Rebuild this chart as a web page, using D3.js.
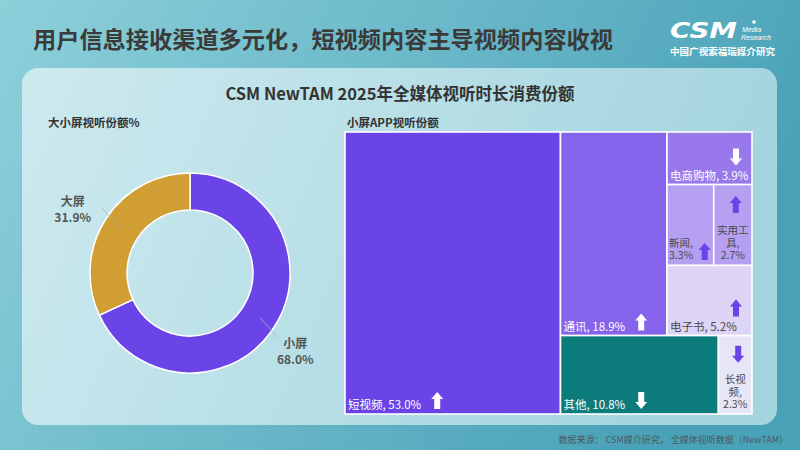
<!DOCTYPE html>
<html>
<head>
<meta charset="utf-8">
<script src="https://cdn.jsdelivr.net/npm/d3@7"></script>
<style>
  body { margin: 0; }
  svg { display: block; }
</style>
</head>
<body>
<div id="chart"></div>
<script>
// 大小屏视听份额
const screenNames = ["小屏", "大屏"];
const screenShares = [68.0, 31.9];

// 小屏APP视听份额
const appNames = ["短视频", "通讯", "电商购物", "新闻", "实用工具", "电子书", "其他", "长视频"];
const appShares = [53.0, 18.9, 3.9, 3.3, 2.7, 5.2, 10.8, 2.3];
const appTrends = ["up", "up", "down", "up", "up", "up", "down", "down"];
// nesting of the blocks in the treemap
const appBlocks = ["", "A/B", "A/B/C", "A/B/C/D", "A/B/C/D", "A/B/C", "A/E", "A/E"];

const titleText = "用户信息接收渠道多元化，短视频内容主导视频内容收视";
const subTitleText = "CSM NewTAM 2025年全媒体视听时长消费份额";
const sourceText = "数据来源： CSM媒介研究， 全媒体视听数据（NewTAM）";

const cellColors = {
  "短视频": "#6b44e8",
  "通讯": "#8563ea",
  "电商购物": "#9878ea",
  "新闻": "#b59ff0",
  "实用工具": "#b59ff0",
  "电子书": "#ddd4f6",
  "其他": "#0c7b7c",
  "长视频": "#e7e6f6"
};
const lightCells = ["新闻", "实用工具", "电子书", "长视频"];
const screenColors = { "小屏": "#6b44e8", "大屏": "#d09e33" };

const font = "'Noto Sans CJK SC', 'Noto Sans', sans-serif";
const width = 800;
const height = 450;

const svg = d3.select("#chart")
  .append("svg")
  .attr("width", width)
  .attr("height", height);

const defs = svg.append("defs");

const bg = defs.append("linearGradient").attr("id", "bg").attr("x1", 0).attr("x2", 1).attr("y1", 0).attr("y2", 0.3);
bg.append("stop").attr("offset", "0%").attr("stop-color", "#8dd0da");
bg.append("stop").attr("offset", "100%").attr("stop-color", "#4aa2b8");

const panelGrad = defs.append("linearGradient").attr("id", "panel").attr("x1", 0).attr("x2", 1).attr("y1", 0).attr("y2", 0.2);
panelGrad.append("stop").attr("offset", "0%").attr("stop-color", "#cdeaef");
panelGrad.append("stop").attr("offset", "100%").attr("stop-color", "#a4d4de");

svg.append("rect").attr("width", width).attr("height", height).attr("fill", "url(#bg)");

svg.append("rect")
  .attr("x", 22).attr("y", 68)
  .attr("width", 755).attr("height", 357)
  .attr("rx", 16)
  .attr("fill", "url(#panel)");

// titre
svg.append("text")
  .attr("x", 33).attr("y", 48)
  .attr("textLength", 580).attr("lengthAdjust", "spacingAndGlyphs")
  .style("font-family", font)
  .style("font-size", "23px")
  .style("font-weight", "bold")
  .attr("fill", "#3a3a3a")
  .text(titleText);

// logo
const logo = svg.append("g").attr("fill", "#fff");
logo.append("text")
  .attr("x", 670).attr("y", 38)
  .attr("textLength", 67).attr("lengthAdjust", "spacingAndGlyphs")
  .style("font-family", "'DejaVu Sans', sans-serif")
  .style("font-size", "21px")
  .style("font-weight", "bold")
  .style("font-style", "italic")
  .text("CSM");
logo.append("text").attr("x", 742).attr("y", 31.5)
  .style("font-family", "'Liberation Sans', sans-serif").style("font-size", "7px").style("font-style", "italic")
  .text("Media");
logo.append("text").attr("x", 741).attr("y", 39.8)
  .style("font-family", "'Liberation Sans', sans-serif").style("font-size", "7px").style("font-style", "italic")
  .text("Research");
logo.append("circle").attr("cx", 754).attr("cy", 22).attr("r", 1.8);
logo.append("text").attr("x", 670).attr("y", 55)
  .attr("textLength", 105).attr("lengthAdjust", "spacingAndGlyphs")
  .style("font-family", font).style("font-size", "9.5px").style("font-weight", "bold")
  .text("中国广视索福瑞媒介研究");

svg.append("text")
  .attr("x", 400).attr("y", 100)
  .attr("text-anchor", "middle")
  .style("font-family", font)
  .style("font-size", "16.5px")
  .style("font-weight", "bold")
  .attr("fill", "#333")
  .text(subTitleText);

svg.append("text")
  .attr("x", 48).attr("y", 127)
  .style("font-family", font).style("font-size", "11.5px").style("font-weight", "bold")
  .attr("fill", "#333")
  .text("大小屏视听份额%");

svg.append("text")
  .attr("x", 347).attr("y", 127)
  .style("font-family", font).style("font-size", "11.5px").style("font-weight", "bold")
  .attr("fill", "#333")
  .text("小屏APP视听份额");

// ---- donut ----
const screenData = screenNames.map((n, i) => ({ name: n, value: screenShares[i] }));
const pie = d3.pie().sort(null).value(d => d.value);
const arcs = pie(screenData);
const arc = d3.arc().innerRadius(63).outerRadius(100);

const donut = svg.append("g").attr("transform", "translate(190,273)");

donut.selectAll("path")
  .data(arcs)
  .enter()
  .append("path")
  .attr("d", arc)
  .attr("fill", d => screenColors[d.data.name])
  .attr("stroke", "#fff")
  .attr("stroke-width", 1.5);

function polar(a, r) {
  return [r * Math.sin(a), -r * Math.cos(a)];
}

arcs.forEach(d => {
  const mid = (d.startAngle + d.endAngle) / 2;
  const p1 = polar(mid, 83);
  const p2 = polar(mid + 0.07, 110);
  donut.append("line")
    .attr("x1", p1[0]).attr("y1", p1[1])
    .attr("x2", p2[0]).attr("y2", p2[1])
    .attr("stroke", "#9fb6bd")
    .attr("stroke-width", 0.8);

  const lp = polar(mid, 132);
  const lx = lp[0] - 6;
  const ly = lp[1] + 9;
  const lab = donut.append("text")
    .attr("text-anchor", "middle")
    .style("font-family", font)
    .style("font-size", "12px")
    .style("font-weight", "bold")
    .attr("fill", "#555");
  lab.append("tspan").attr("x", lx).attr("y", ly - 5).text(d.data.name);
  lab.append("tspan").attr("x", lx).attr("y", ly + 11).text(d.data.value.toFixed(1) + "%");
});

// ---- treemap ----
const tree = { name: "root", children: [] };
appNames.forEach((name, i) => {
  let node = tree;
  appBlocks[i].split("/").filter(s => s).forEach(key => {
    let child = node.children.find(c => c.key === key);
    if (!child) {
      child = { key: key, children: [] };
      node.children.push(child);
    }
    node = child;
  });
  node.children.push({ name: name, value: appShares[i], trend: appTrends[i] });
});

const tmW = 407;
const tmH = 282;
const root = d3.hierarchy(tree).sum(d => d.value || 0);
d3.treemap().tile(d3.treemapSliceDice).size([tmW, tmH]).round(false)(root);

const tm = svg.append("g").attr("transform", "translate(345,132)");

const cells = tm.selectAll("g")
  .data(root.leaves())
  .enter()
  .append("g");

cells.append("rect")
  .attr("x", d => d.x0)
  .attr("y", d => d.y0)
  .attr("width", d => d.x1 - d.x0)
  .attr("height", d => d.y1 - d.y0)
  .attr("fill", d => cellColors[d.data.name])
  .attr("stroke", "#fff")
  .attr("stroke-width", 1.6);

function arrowPath(cx, top, dir) {
  const h = 17, hw = 6, sw = 3, head = 7;
  if (dir === "up") {
    return `M${cx},${top} L${cx + hw},${top + head} L${cx + sw},${top + head} L${cx + sw},${top + h}` +
      ` L${cx - sw},${top + h} L${cx - sw},${top + head} L${cx - hw},${top + head} Z`;
  }
  const b = top + h;
  return `M${cx},${b} L${cx + hw},${b - head} L${cx + sw},${b - head} L${cx + sw},${top}` +
    ` L${cx - sw},${top} L${cx - sw},${b - head} L${cx - hw},${b - head} Z`;
}

const fs = 11.5;
const fsSmall = 10.5;
const lineH = 12.5;

cells.each(function(d) {
  const g = d3.select(this);
  const w = d.x1 - d.x0;
  const h = d.y1 - d.y0;
  const name = d.data.name;
  const val = d.data.value.toFixed(1) + "%";
  const light = lightCells.includes(name);
  const txtColor = light ? "#4a4a4a" : "#fff";
  const arrowColor = light ? "#6b44e8" : "#fff";

  const t = g.append("text")
    .style("font-family", font)
    .style("font-size", fs + "px")
    .attr("fill", txtColor)
    .text(`${name}, ${val}`);
  const tw = t.node().getComputedTextLength();

  let ax, atop;
  if (tw + 4 <= w) {
    t.attr("x", d.x0 + 3).attr("y", d.y1 - 5);
    if (tw + 20 <= w && h > 60) {
      ax = Math.min(d.x0 + 3 + tw + 16, d.x1 - 9);
      atop = d.y1 - 5 - 17;
    } else {
      ax = d.x1 - 16;
      atop = d.y1 - 19 - 17;
    }
  } else {
    t.text(null).style("font-size", fsSmall + "px");
    const perLine = Math.max(1, Math.floor((w - 4) / fsSmall));
    const chars = Array.from(name + ",");
    const lines = [];
    for (let i = 0; i < chars.length; i += perLine) lines.push(chars.slice(i, i + perLine).join(""));
    lines.push(val);
    const n = lines.length;
    if (n <= 2) {
      lines.forEach((l, i) => {
        t.append("tspan").attr("x", d.x0 + 2).attr("y", d.y1 - 6 - (n - 1 - i) * lineH).text(l);
      });
      ax = d.x1 - 9;
      atop = d.y1 - 5.5 - 17;
    } else {
      const cx = (d.x0 + d.x1) / 2;
      t.attr("text-anchor", "middle");
      lines.forEach((l, i) => {
        t.append("tspan").attr("x", cx).attr("y", d.y1 - 6 - (n - 1 - i) * lineH).text(l);
      });
      const textTop = d.y1 - 6 - (n - 1) * lineH - 10;
      ax = cx + 3;
      atop = (d.y0 + textTop) / 2 - 8.5;
    }
  }

  g.append("path")
    .attr("d", arrowPath(ax, atop, d.data.trend))
    .attr("fill", arrowColor);
});

// source
svg.append("text")
  .attr("x", 788).attr("y", 443)
  .attr("text-anchor", "end")
  .style("font-family", font)
  .style("font-size", "9px")
  .attr("fill", "#4b5a60")
  .text(sourceText);
</script>
</body>
</html>
